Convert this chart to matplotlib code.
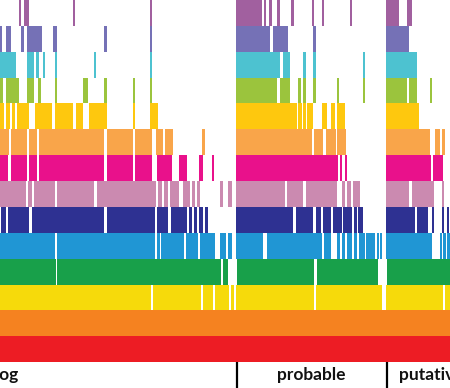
import matplotlib
matplotlib.use("Agg")
import matplotlib.pyplot as plt

# gene-index runs where each species row has a hit (bottom row first)
red_runs = [(0, 450)]
orange_runs = [(0, 450)]
yellow_runs = [(0, 151), (152.5, 201), (202.5, 213), (214.5, 229), (231, 234), (236, 314),
               (316, 382), (386, 443), (445, 450)]
green_runs = [(0, 55.5), (57, 221), (223, 228), (237, 314), (317, 378), (387, 450)]
blue_runs = [(0, 55), (57, 155), (156.5, 160), (161, 184), (186, 198), (200, 215), (220, 226),
             (228, 231.5), (236, 263), (267, 322), (324, 331), (337, 340), (342, 345),
             (347, 352), (354, 357), (359, 365), (366, 375), (377, 379), (380, 382),
             (386, 432), (440, 442), (443, 446), (447, 450)]
navy_runs = [(1, 6), (8, 29), (32, 104), (107, 155), (157, 168), (171, 187), (189, 192),
             (193.5, 197), (199, 203), (205, 208), (236, 293), (296, 313), (316, 321),
             (323, 331), (333, 342), (343, 352), (354, 357), (358, 363), (386, 415),
             (417, 428), (432, 434), (442, 444), (447, 449)]
pink_runs = [(0, 26), (28, 32), (34, 55), (57, 94), (97, 156), (158, 162), (164, 168),
             (170, 179), (183, 190), (192, 195), (197, 200), (220, 223), (228, 231.5),
             (236, 285), (287, 303), (306, 337), (342, 345), (347, 351), (353, 360),
             (386, 409), (412, 434), (442, 444)]
magenta_runs = [(0, 8), (11, 27), (29, 37), (39, 104), (107, 133), (135, 152), (157, 172),
                (179, 187), (199, 203), (212, 214), (236, 338), (340, 342), (345, 347),
                (386, 431), (433, 443)]
ltorange_runs = [(0, 9), (11, 27), (29, 37), (39, 104), (107, 133), (135, 152), (156, 163),
                 (165, 173), (202, 205), (236, 312), (313.5, 323), (326, 336), (337, 346),
                 (386, 430), (435, 440), (442, 445)]
gold_runs = [(0, 4), (6, 10), (12, 15), (17, 29), (35, 52), (55, 73), (76, 83), (89, 107),
             (133, 135), (150, 158), (236, 297), (298, 302), (303, 306), (307, 313),
             (322, 327), (331, 335), (337, 345), (386, 419)]
lime_runs = [(0, 3), (6, 19), (27, 34), (38, 41), (55, 57), (83, 88), (104, 107), (133, 135),
             (150, 152), (236, 277), (280, 290), (298, 301), (303, 306), (313, 316),
             (337, 339), (363, 365), (386, 407), (409, 417), (430, 432)]
cyan_runs = [(0, 16), (27, 34), (36, 39), (43, 45), (55, 57), (94, 96), (150, 152),
             (236, 280), (283, 290), (303, 306), (313, 316), (363, 365), (386, 417)]
purple_runs = [(0, 2), (6, 11), (21, 24), (27, 42), (53, 57), (104, 107), (150, 152),
               (236, 270), (273, 288), (313, 316), (386, 409)]
mauve_runs = [(19, 21), (24, 29), (73, 75), (150, 151.5), (236, 262), (264, 266), (269, 271.5),
              (277, 280), (291, 294), (312, 314), (322, 324), (350, 352), (386, 399), (407, 412)]

rows = [red_runs, orange_runs, yellow_runs, green_runs, blue_runs, navy_runs, pink_runs,
        magenta_runs, ltorange_runs, gold_runs, lime_runs, cyan_runs, purple_runs, mauve_runs]
colors = ['#ed1c24', '#f58220', '#f6da0b', '#18a04a', '#2096d4', '#2e3192', '#cb8ab0',
          '#e9118b', '#f9a54a', '#fec80e', '#9bc43d', '#4dc2d0', '#7571b6', '#a1609f']

groups = ['ortholog', 'probable', 'putative']
group_edges = [237, 387]

fig = plt.figure(figsize=(4.5, 3.88), dpi=100)
ax = fig.add_axes([0, 0, 1, 1])

for i, (runs, col) in enumerate(zip(rows, colors)):
    ax.broken_barh([(a, b - a) for a, b in runs], (i, 1), facecolors=col, linewidth=0)

ax.vlines(group_edges, -1, 0, color='black', linewidth=1.6)
font = dict(fontsize=12.5, fontweight='bold', family='Lato', color='#111111', va='center')
ax.text(19, -0.5, groups[0], ha='right', **font)
ax.text(311, -0.5, groups[1], ha='center', **font)
ax.text(399, -0.5, groups[2], ha='left', **font)

ax.set_xlim(0, 450)
ax.set_ylim(-1, 14)
ax.axis('off')
fig.savefig('out.png', dpi=100)
